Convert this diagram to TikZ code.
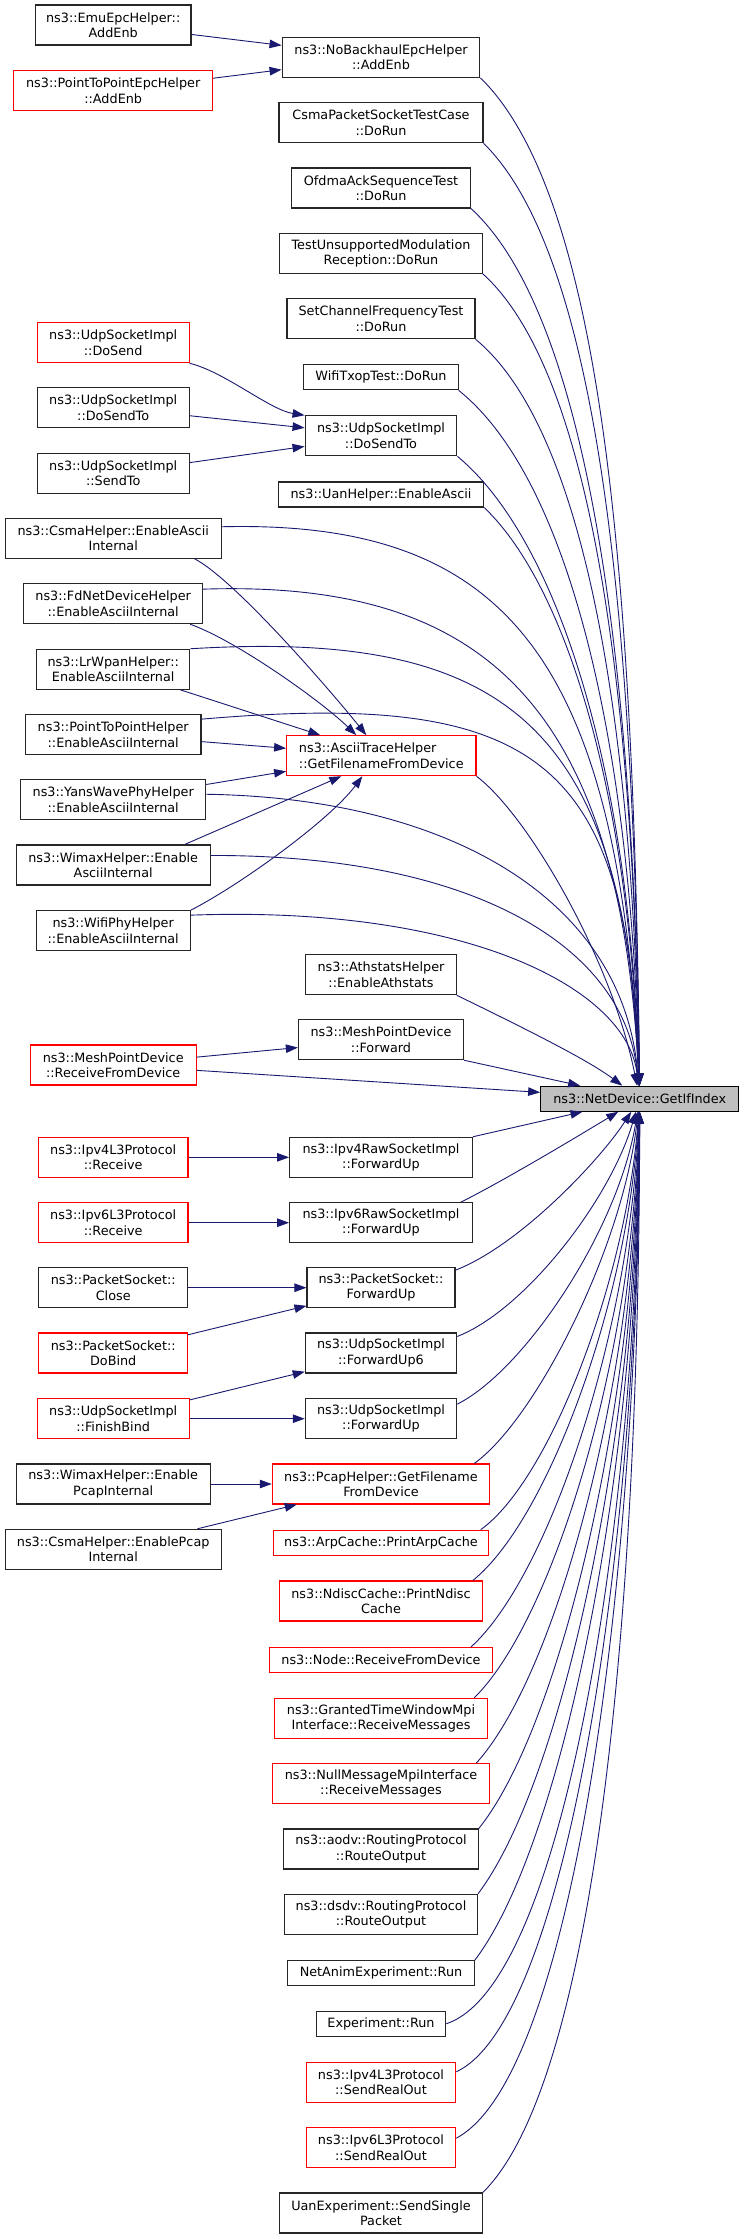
\documentclass[tikz,border=0pt]{standalone}
\usepackage{fontspec}
\setmainfont{DejaVu Sans}
\usetikzlibrary{arrows.meta}
\definecolor{edgeblue}{HTML}{191970}
\newcommand{\fnfont}{\fontsize{12.8}{15.3}\selectfont}
\tikzset{
  fn/.style={draw=black!85, fill=white, line width=1.1pt, align=center, inner sep=0pt, minimum height=40pt, font=\fnfont},
  oneline/.style={minimum height=25pt}
}

\begin{document}
\begin{tikzpicture}[x=1pt, y=-1pt, >={Triangle[length=12pt,width=8.5pt]}]
   \fill[white] (0,0) rectangle (744,2239);
   \useasboundingbox (0,0) rectangle (744,2239);
   \begin{scope}[every node/.style={fn}]
    % left column
    \node (emuEnb) [minimum width=155.6pt] at (113.2,25) {ns3::EmuEpcHelper::\\AddEnb};
    \node (p2pEnb) [draw=red, minimum width=198.9pt] at (113.2,90.7) {ns3::PointToPointEpcHelper\\::AddEnb};
    \node (doSend) [draw=red, minimum width=151.8pt] at (113.2,342.7) {ns3::UdpSocketImpl\\::DoSend};
    \node (doSendTo2) [minimum width=151.8pt] at (113.2,407.7) {ns3::UdpSocketImpl\\::DoSendTo};
    \node (sendTo) [minimum width=151.8pt] at (113.2,473.3) {ns3::UdpSocketImpl\\::SendTo};
    \node (csmaAscii) [minimum width=215.9pt] at (113.2,538.3) {ns3::CsmaHelper::EnableAscii\\Internal};
    \node (fdAscii) [minimum width=178.9pt] at (113.2,603.7) {ns3::FdNetDeviceHelper\\::EnableAsciiInternal};
    \node (lrAscii) [minimum width=153.3pt] at (113.2,669.3) {ns3::LrWpanHelper::\\EnableAsciiInternal};
    \node (p2pAscii) [minimum width=175.5pt] at (113.2,734.7) {ns3::PointToPointHelper\\::EnableAsciiInternal};
    \node (yansAscii) [minimum width=185pt] at (113.2,799.8) {ns3::YansWavePhyHelper\\::EnableAsciiInternal};
    \node (wimaxAscii) [minimum width=194pt] at (113.2,865) {ns3::WimaxHelper::Enable\\AsciiInternal};
    \node (wifiAscii) [minimum width=154.2pt] at (113.2,930.7) {ns3::WifiPhyHelper\\::EnableAsciiInternal};
    \node (meshRecv) [draw=red, minimum width=165.7pt] at (113.2,1065) {ns3::MeshPointDevice\\::ReceiveFromDevice};
    \node (ipv4Recv) [draw=red, minimum width=149.5pt] at (113.2,1157.3) {ns3::Ipv4L3Protocol\\::Receive};
    \node (ipv6Recv) [draw=red, minimum width=149.5pt] at (113.2,1222.7) {ns3::Ipv6L3Protocol\\::Receive};
    \node (pktClose) [minimum width=148.6pt] at (113.2,1287.7) {ns3::PacketSocket::\\Close};
    \node (pktBind) [draw=red, minimum width=148.6pt] at (113.2,1353) {ns3::PacketSocket::\\DoBind};
    \node (finishBind) [draw=red, minimum width=151.8pt] at (113.2,1418.7) {ns3::UdpSocketImpl\\::FinishBind};
    \node (wimaxPcap) [minimum width=194pt] at (113.2,1484) {ns3::WimaxHelper::Enable\\PcapInternal};
    \node (csmaPcap) [minimum width=215.9pt] at (113.2,1549.3) {ns3::CsmaHelper::EnablePcap\\Internal};
    % middle column
    \node (noBack) [minimum width=197.8pt] at (381,57.3) {ns3::NoBackhaulEpcHelper\\::AddEnb};
    \node (csmaTest) [minimum width=204pt] at (381,122.7) {CsmaPacketSocketTestCase\\::DoRun};
    \node (ofdma) [minimum width=178.9pt] at (381,188) {OfdmaAckSequenceTest\\::DoRun};
    \node (testMod) [minimum width=202.6pt] at (381,253.3) {TestUnsupportedModulation\\Reception::DoRun};
    \node (setFreq) [minimum width=188pt] at (381,318.7) {SetChannelFrequencyTest\\::DoRun};
    \node (wifiTxop) [oneline, minimum width=154.2pt] at (381,377.3) {WifiTxopTest::DoRun};
    \node (doSendTo) [minimum width=151.8pt] at (381,435.8) {ns3::UdpSocketImpl\\::DoSendTo};
    \node (uanAscii) [oneline, minimum width=205.4pt] at (381,494.5) {ns3::UanHelper::EnableAscii};
    \node (asciiTrace) [draw=red, align=left, minimum width=189.3pt] at (381.3,755.7) {ns3::AsciiTraceHelper\\::GetFilenameFromDevice};
    \node (athstats) [minimum width=150.4pt] at (381,974.7) {ns3::AthstatsHelper\\::EnableAthstats};
    \node (meshFwd) [minimum width=165.2pt] at (381,1039.7) {ns3::MeshPointDevice\\::Forward};
    \node (ipv4Raw) [minimum width=182.7pt] at (381,1157.3) {ns3::Ipv4RawSocketImpl\\::ForwardUp};
    \node (ipv6Raw) [minimum width=182.7pt] at (381,1222.7) {ns3::Ipv6RawSocketImpl\\::ForwardUp};
    \node (pktFwd) [minimum width=148pt] at (381,1287.7) {ns3::PacketSocket::\\ForwardUp};
    \node (udpFwd6) [minimum width=151.4pt] at (381,1353) {ns3::UdpSocketImpl\\::ForwardUp6};
    \node (udpFwd) [minimum width=151.4pt] at (381,1418.7) {ns3::UdpSocketImpl\\::ForwardUp};
    \node (pcapFile) [draw=red, minimum width=217.4pt] at (381,1484) {ns3::PcapHelper::GetFilename\\FromDevice};
    \node (arpCache) [draw=red, oneline, minimum width=214.4pt] at (381,1542.7) {ns3::ArpCache::PrintArpCache};
    \node (ndiscCache) [draw=red, minimum width=202.6pt] at (381,1601) {ns3::NdiscCache::PrintNdisc\\Cache};
    \node (nodeRecv) [draw=red, oneline, minimum width=222.9pt] at (381,1660) {ns3::Node::ReceiveFromDevice};
    \node (grantedRecv) [draw=red, minimum width=213.5pt] at (381,1718.3) {ns3::GrantedTimeWindowMpi\\Interface::ReceiveMessages};
    \node (nullRecv) [draw=red, minimum width=217.4pt] at (381,1783.7) {ns3::NullMessageMpiInterface\\::ReceiveMessages};
    \node (aodvRoute) [minimum width=194.5pt] at (381,1849) {ns3::aodv::RoutingProtocol\\::RouteOutput};
    \node (dsdvRoute) [minimum width=193pt] at (381,1914.3) {ns3::dsdv::RoutingProtocol\\::RouteOutput};
    \node (netAnim) [oneline, minimum width=186.6pt] at (381,1973.2) {NetAnimExperiment::Run};
    \node (expRun) [oneline, minimum width=129.5pt] at (381,2023.7) {Experiment::Run};
    \node (ipv4Send) [draw=red, minimum width=149.5pt] at (381,2082.3) {ns3::Ipv4L3Protocol\\::SendRealOut};
    \node (ipv6Send) [draw=red, minimum width=149.5pt] at (381,2147.7) {ns3::Ipv6L3Protocol\\::SendRealOut};
    \node (uanSend) [minimum width=202.6pt] at (381,2213) {UanExperiment::SendSingle\\Packet};
    % the called function
    \node (getIf) [draw=black, fill=black!25, oneline, minimum width=198pt] at (639.7,1098.7) {ns3::NetDevice::GetIfIndex};
   \end{scope}
   \begin{scope}[->, edgeblue, line width=0.9pt]
    % second level callers
    \draw (emuEnb) edge (noBack);
    \draw (p2pEnb) edge (noBack);
    \draw (doSend.south east) .. controls (225,372) and (270,410) .. (doSendTo.north west);
    \draw (doSendTo2) edge (doSendTo);
    \draw (sendTo) edge (doSendTo);
    \draw ([xshift=-27pt]csmaAscii.south east) .. controls (235,580) and (330,690) .. ([xshift=-15pt]asciiTrace.north);
    \draw ([xshift=-13pt]fdAscii.south east) .. controls (235,640) and (320,700) .. ([xshift=-25pt]asciiTrace.north);
    \draw ([xshift=-10pt]lrAscii.south east) -- ([xshift=-61pt]asciiTrace.north);
    \draw (p2pAscii) edge (asciiTrace);
    \draw (yansAscii) edge (asciiTrace);
    \draw ([xshift=-26pt]wimaxAscii.north east) -- ([xshift=-40pt]asciiTrace.south);
    \draw (wifiAscii.north east) .. controls (240,885) and (330,820) .. ([xshift=-19pt]asciiTrace.south);
    \draw (meshRecv) edge (meshFwd);
    \draw (ipv4Recv) edge (ipv4Raw);
    \draw (ipv6Recv) edge (ipv6Raw);
    \draw (pktClose) edge (pktFwd);
    \draw (pktBind) edge (pktFwd);
    \draw (finishBind) edge (udpFwd6);
    \draw (finishBind) edge (udpFwd);
    \draw (wimaxPcap) edge (pcapFile);
    \draw (csmaPcap) edge (pcapFile);
    % direct callers, from above
    \draw (noBack.south east) .. controls (603,198) and (634,582) .. (getIf);
    \draw (csmaTest.south east) .. controls (598,256) and (634,614) .. (getIf);
    \draw (ofdma.south east) .. controls (585,313) and (633,647) .. (getIf);
    \draw (testMod.south east) .. controls (590,371) and (633,680) .. (getIf);
    \draw (setFreq.south east) .. controls (583,428) and (632,712) .. (getIf);
    \draw (wifiTxop.south east) .. controls (568,478) and (631,738) .. (getIf);
    \draw (doSendTo.south east) .. controls (558,540) and (630,771) .. (getIf);
    \draw (uanAscii.south east) .. controls (568,588) and (629,796) .. (getIf);
    \draw ([yshift=-9pt]csmaAscii.north east) .. controls (500,520) and (618,650) .. (getIf);
    \draw ([yshift=-6pt]fdAscii.north east) .. controls (480,580) and (620,700) .. (getIf);
    \draw (lrAscii.north east) .. controls (500,630) and (625,720) .. (getIf);
    \draw ([yshift=-5pt]p2pAscii.north east) .. controls (540,690) and (627,760) .. (getIf);
    \draw (asciiTrace.south east) .. controls (528,815) and (612,960) .. (getIf);
    \draw ([yshift=-15pt]yansAscii.north east) .. controls (450,798) and (624,900) .. (getIf);
    \draw ([yshift=-11pt]wimaxAscii.north east) .. controls (480,855) and (626,950) .. (getIf);
    \draw ([yshift=-5pt]wifiAscii.north east) .. controls (470,905) and (628,990) .. (getIf);
    \draw (athstats.south east) .. controls (528,1030) and (588,1060) .. (getIf);
    \draw (meshFwd.south east) -- (getIf);
    \draw (meshRecv) edge (getIf);
    % direct callers, from below
    \draw (ipv4Raw.north east) -- (getIf);
    \draw ([xshift=-12pt]ipv6Raw.north east) .. controls (505,1180) and (580,1135) .. (getIf);
    \draw ([yshift=-3pt]pktFwd.north east) .. controls (520,1245) and (600,1160) .. (getIf);
    \draw ([yshift=-4pt]udpFwd6.north east) .. controls (525,1310) and (610,1200) .. (getIf);
    \draw ([yshift=-6pt]udpFwd.north east) .. controls (525,1370) and (618,1230) .. (getIf);
    \draw ([xshift=-16pt]pcapFile.north east) .. controls (535,1420) and (622,1250) .. (getIf);
    \draw ([xshift=-8pt]arpCache.north east) .. controls (550,1480) and (626,1280) .. (getIf);
    \draw ([xshift=-10pt]ndiscCache.north east) .. controls (548,1520) and (628,1300) .. (getIf);
    \draw ([xshift=-22pt]nodeRecv.north east) .. controls (550,1575) and (630,1330) .. (getIf);
    \draw ([xshift=-14pt]grantedRecv.north east) .. controls (553,1620) and (632,1360) .. (getIf);
    \draw ([xshift=-14pt]nullRecv.north east) .. controls (556,1675) and (633,1390) .. (getIf);
    \draw (aodvRoute.north east) .. controls (558,1730) and (634,1420) .. (getIf);
    \draw (dsdvRoute.north east) .. controls (560,1785) and (635,1450) .. (getIf);
    \draw (netAnim.north east) .. controls (562,1845) and (636,1480) .. (getIf);
    \draw (expRun.east) .. controls (565,1985) and (637,1510) .. (getIf);
    \draw ([yshift=-10pt]ipv4Send.north east) .. controls (568,2020) and (638,1540) .. (getIf);
    \draw ([yshift=-11pt]ipv6Send.north east) .. controls (575,2075) and (638,1570) .. (getIf);
    \draw (uanSend.north east) .. controls (590,2087) and (639,1650) .. (getIf);
   \end{scope}
\end{tikzpicture}
\end{document}
